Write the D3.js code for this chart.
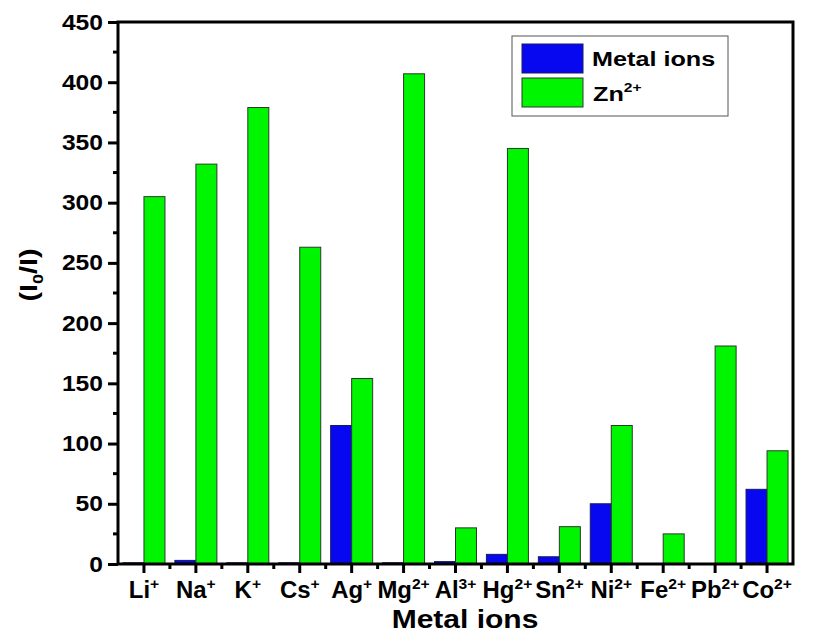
<!DOCTYPE html>
<html>
<head>
<meta charset="utf-8">
<script src="https://cdn.jsdelivr.net/npm/d3@7"></script>
<style>
  body { margin: 0; background: #fff; }
  svg { font-family: "Liberation Sans", Arial, sans-serif; font-weight: bold; }
</style>
</head>
<body>
<svg id="chart" width="821" height="636"></svg>
<script>
// ion symbol + charge superscript
const ions = ["Li", "Na", "K", "Cs", "Ag", "Mg", "Al", "Hg", "Sn", "Ni", "Fe", "Pb", "Co"];
const charges = ["+", "+", "+", "+", "+", "2+", "3+", "2+", "2+", "2+", "2+", "2+", "2+"];
const metalIons = [1, 3, 1, 1, 115, 1, 2, 8, 6, 50, 0, 0, 62];
const znIons = [305, 332, 379, 263, 154, 407, 30, 345, 31, 115, 25, 181, 94];
const yTicks = [0, 50, 100, 150, 200, 250, 300, 350, 400, 450];

const svg = d3.select("#chart");
const pLeft = 118, pRight = 793, pTop = 22, pBottom = 564;

const x = d3.scaleBand().domain(ions).range([pLeft, pRight]);
const y = d3.scaleLinear().domain([0, 450]).range([pBottom, pTop]);
const barW = 21;

const g = svg.append("g");

// bars
g.selectAll(".metal")
    .data(ions)
    .enter().append("rect")
    .attr("x", d => x(d) + x.bandwidth() / 2 - barW)
    .attr("y", (d, i) => y(metalIons[i]))
    .attr("width", barW)
    .attr("height", (d, i) => pBottom - y(metalIons[i]))
    .style("fill", "#0808f0")
    .style("stroke", "#1a1a5a")
    .style("stroke-width", 1);

g.selectAll(".zn")
    .data(ions)
    .enter().append("rect")
    .attr("x", d => x(d) + x.bandwidth() / 2)
    .attr("y", (d, i) => y(znIons[i]))
    .attr("width", barW)
    .attr("height", (d, i) => pBottom - y(znIons[i]))
    .style("fill", "#00f500")
    .style("stroke", "#2a3a2a")
    .style("stroke-width", 1);

// frame
g.append("rect")
    .attr("x", pLeft).attr("y", pTop)
    .attr("width", pRight - pLeft).attr("height", pBottom - pTop)
    .style("fill", "none").style("stroke", "#000").style("stroke-width", 3);

// y axis
const yAxis = g.append("g")
    .attr("transform", `translate(${pLeft},0)`)
    .call(d3.axisLeft(y).tickValues(yTicks).tickSize(10).tickPadding(5));
yAxis.select(".domain").remove();
yAxis.selectAll("line").style("stroke-width", 3);
yAxis.selectAll("text")
    .style("font-size", "22px").style("fill", "#000")
    .attr("textLength", d => String(d).length * 13.7)
    .attr("lengthAdjust", "spacingAndGlyphs");
// minor y ticks
g.selectAll(".ymin")
    .data(yTicks.slice(0, -1).map(v => v + 25))
    .enter().append("line")
    .attr("x1", pLeft - 5).attr("x2", pLeft)
    .attr("y1", d => y(d)).attr("y2", d => y(d))
    .style("stroke", "#000").style("stroke-width", 3);

// x axis ticks
g.selectAll(".xmaj")
    .data(ions)
    .enter().append("line")
    .attr("x1", d => x(d) + x.bandwidth() / 2).attr("x2", d => x(d) + x.bandwidth() / 2)
    .attr("y1", pBottom).attr("y2", pBottom + 9)
    .style("stroke", "#000").style("stroke-width", 3);
g.selectAll(".xmin")
    .data(ions.slice(1))
    .enter().append("line")
    .attr("x1", d => x(d)).attr("x2", d => x(d))
    .attr("y1", pBottom).attr("y2", pBottom + 5)
    .style("stroke", "#000").style("stroke-width", 3);

// x tick labels
const lab = g.selectAll(".xlab")
    .data(ions)
    .enter().append("g")
    .attr("transform", d => `translate(${x(d) + x.bandwidth() / 2},598) scale(1.04,1)`)
    .append("text")
    .attr("text-anchor", "middle")
    .style("font-size", "23px");
lab.append("tspan").text(d => d);
lab.append("tspan")
    .attr("dy", -9)
    .style("font-size", "15px")
    .text((d, i) => charges[i]);

// axis titles
svg.append("g")
    .attr("transform", `translate(465,628) scale(1.2,1)`)
    .append("text")
    .attr("text-anchor", "middle")
    .style("font-size", "25px")
    .text("Metal ions");

const yt = svg.append("g")
    .attr("transform", "translate(37,275) rotate(-90) scale(1.2,1)")
    .append("text")
    .attr("text-anchor", "middle")
    .style("font-size", "24px");
yt.append("tspan").text("(I");
yt.append("tspan").attr("dy", 6).style("font-size", "15px").text("0");
yt.append("tspan").attr("dy", -6).text("/I)");

// legend
const leg = svg.append("g");
leg.append("rect")
    .attr("x", 512).attr("y", 36).attr("width", 216).attr("height", 80)
    .style("fill", "#fff").style("stroke", "#555").style("stroke-width", 1);
leg.append("rect")
    .attr("x", 522).attr("y", 44).attr("width", 61).attr("height", 29)
    .style("fill", "#0808f0").style("stroke", "#1a1a5a");
leg.append("rect")
    .attr("x", 522).attr("y", 78).attr("width", 61).attr("height", 29)
    .style("fill", "#00f500").style("stroke", "#2a3a2a");
leg.append("g")
    .attr("transform", "translate(592,66) scale(1.2,1)")
    .append("text")
    .style("font-size", "21px")
    .text("Metal ions");
const zt = leg.append("g")
    .attr("transform", "translate(593,101) scale(1.2,1)")
    .append("text")
    .style("font-size", "21px");
zt.append("tspan").text("Zn");
zt.append("tspan").attr("dy", -9).style("font-size", "13px").text("2+");
</script>
</body>
</html>
